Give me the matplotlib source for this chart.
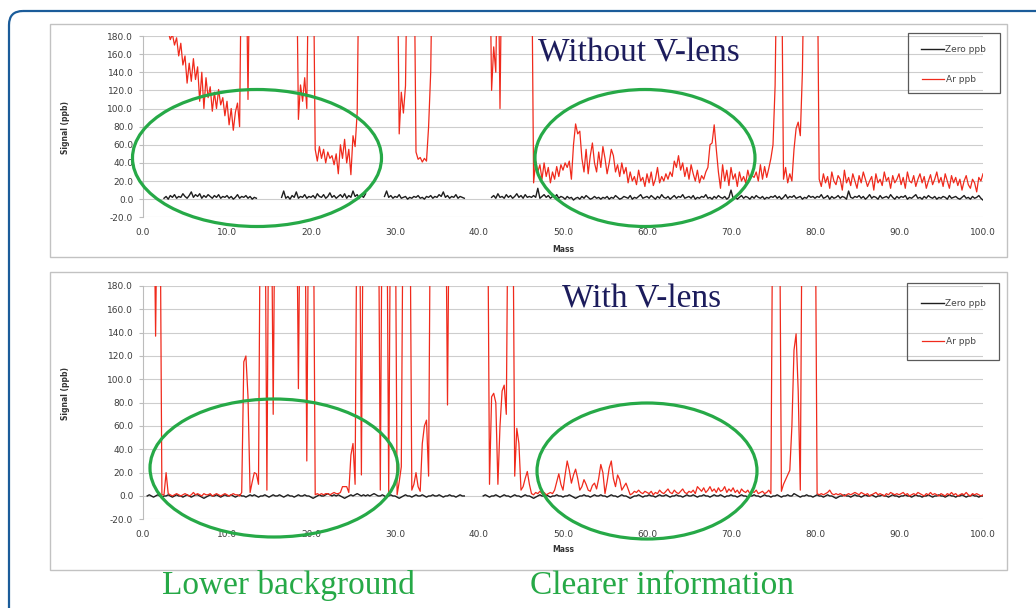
import numpy as np
import matplotlib
matplotlib.use('Agg')
import matplotlib.pyplot as plt
from matplotlib.patches import Ellipse, FancyBboxPatch, Rectangle

nan = np.nan
# mass axis, one sample every 0.25
mass = np.linspace(0, 100, 401)

# ---- Without V-lens: Ar ppb ----
ar_top = [
    nan, nan, nan, nan, nan, nan, nan, nan, nan, nan, 300, 240, 185, 176, 182, 170, 178, 158, 172, 148,   # 0
    158, 128, 150, 130, 155, 132, 146, 108, 140, 100, 134, 112, 124, 97, 118, 100, 121, 104, 112, 92,     # 5
    108, 82, 100, 76, 96, 106, 80, 300, 300, 300, 110, 300, 300, 300, 300, 300, 300, 300, 300, 300,       # 10
    300, 300, 300, 300, 300, 300, 300, 300, 300, 300, 300, 300, 300, 300, 88, 126, 108, 134, 100, 300,    # 15
    300, 300, 55, 42, 58, 45, 55, 40, 52, 45, 48, 38, 50, 28, 60, 45, 66, 40, 55, 27,                     # 20
    70, 58, 96, 300, 300, 300, 300, 300, 300, 300, 300, 300, 300, 300, 300, 300, 300, 300, 300, 300,      # 25
    300, 300, 72, 118, 95, 125, 300, 300, 300, 300, 52, 44, 46, 41, 45, 42, 80, 140, 300, 300,            # 30
    300, 300, 300, 300, 300, 300, 300, 300, 300, 300, 300, 300, 300, 300, 300, 300, 300, 300, 300, 300,   # 35
    300, 300, 300, 300, 300, 300, 120, 168, 140, 300, 100, 300, 300, 300, 300, 300, 300, 300, 300, 300,   # 40
    300, 300, 300, 300, 300, 300, 18, 42, 30, 38, 22, 40, 25, 35, 18, 30, 22, 36, 25, 38,                 # 45
    32, 40, 35, 42, 22, 60, 83, 72, 75, 45, 30, 55, 28, 48, 62, 40, 30, 52, 35, 58,                       # 50
    45, 28, 40, 55, 48, 30, 38, 25, 40, 28, 35, 18, 30, 20, 25, 16, 32, 20, 24, 14,                       # 55
    28, 18, 30, 15, 22, 35, 18, 25, 20, 28, 22, 30, 25, 42, 35, 48, 32, 40, 25, 35,                       # 60
    22, 38, 28, 20, 32, 18, 26, 22, 30, 35, 60, 62, 82, 55, 30, 12, 38, 20, 32, 15,                       # 65
    35, 22, 28, 14, 30, 20, 25, 18, 32, 22, 26, 24, 30, 20, 38, 22, 36, 24, 34, 45,                       # 70
    60, 125, 300, 300, 300, 22, 35, 18, 28, 20, 55, 78, 85, 70, 140, 300, 300, 300, 300, 300,             # 75
    300, 300, 22, 14, 28, 18, 25, 12, 30, 20, 16, 26, 22, 10, 32, 18, 24, 15, 28, 20,                     # 80
    12, 26, 18, 30, 22, 14, 20, 25, 10, 28, 18, 22, 15, 30, 20, 24, 12, 26, 18, 22,                       # 85
    28, 16, 24, 12, 30, 20, 18, 26, 14, 22, 28, 18, 25, 12, 20, 27, 16, 22, 30, 18,                       # 90
    24, 14, 28, 20, 12, 26, 18, 24, 15, 22, 10, 20, 26, 16, 12, 22, 18, 8, 24, 20,                        # 95
    28,
]

# ---- Without V-lens: Zero ppb ----
zero_top = [
    nan, nan, nan, nan, nan, nan, nan, nan, nan, nan, 1, 3, 0, 4, 2, 5, 1, 3, 2, 6,
    3, 1, 4, 8, 2, 5, 3, 6, 1, 4, 2, 5, 3, 1, 4, 2, 5, 1, 3, 2,
    4, 1, 3, 0, 2, 5, 1, 3, 2, 4, 1, 3, 0, 2, 1, nan, nan, nan, nan, nan,
    nan, nan, nan, nan, nan, nan, 2, 9, 1, 3, 0, 4, 2, 8, 1, 3, 2, 5, 1, 3,
    2, 4, 1, 6, 3, 2, 5, 1, 3, 7, 2, 4, 1, 3, 5, 2, 6, 1, 4, 2,
    9, 3, 5, 1, 4, 2, 6, nan, nan, nan, nan, nan, nan, nan, nan, 3, 9, 2, 4, 1,
    3, 2, 5, 1, 2, 3, 0, 2, 1, 3, 2, 4, 1, 2, 0, 3, 2, 4, 1, 3,
    2, 5, 3, 8, 2, 4, 1, 3, 2, 5, 1, 3, 2, 1, nan, nan, nan, nan, nan, nan,
    nan, nan, nan, nan, nan, nan, 2, 4, 1, 6, 2, 3, 1, 5, 2, 4, 1, 3, 6, 2,
    4, 1, 5, 2, 3, 2, 4, 2, 12, 1, 3, 5, 2, 4, 1, 3, 2, 5, 1, 3,
    2, 0, 3, 1, 2, -1, 1, 2, 0, 3, 1, 4, 2, 0, 1, 3, 1, 2, 0, 2,
    1, 3, 0, 2, 1, 4, 2, 0, 1, 3, 2, 1, 4, 0, 2, 1, 3, 5, 1, 2,
    3, 1, 4, 2, 0, 3, 1, 5, 2, 1, 3, 0, 2, 4, 1, 3, 2, 5, 1, 2,
    3, 1, 4, 0, 2, 1, 3, 2, 5, 1, 2, 0, 3, 1, 4, 2, 1, 3, 0, 2,
    10, 1, 3, 0, 2, 4, 1, 3, 2, 0, 3, 1, 4, 2, 1, 3, 0, 2, 1, 3,
    2, 4, 1, 3, 0, 2, 5, 1, 3, 2, 4, 1, 2, 3, 0, 2, 1, 4, 2, 3,
    1, 3, 2, 5, 1, 2, 4, 0, 3, 1, 2, 4, 1, 3, 2, 0, 9, 2, 1, 3,
    2, 4, 1, 3, 0, 2, 5, 1, 3, 2, 0, 4, 1, 2, 3, 1, 5, 2, 0, 3,
    1, 3, 2, 4, 0, 2, 1, 3, 5, 1, 2, 0, 3, 1, 4, 2, 1, 3, 0, 2,
    1, 3, 2, 0, 4, 1, 2, 3, 1, 0, 2, 4, 1, 2, 0, 3, 1, 2, 4, 1,
    -1,
]

# ---- With V-lens: Ar ppb ----
ar_bot = [
    nan, nan, nan, nan, nan, 300, 137, 300, 300, 1, 1, 20, 2, 1, 0, 1, 2, 1, 0, 1,
    2, 1, 0, 1, 3, 1, 2, 1, 0, 2, 1, 1, 2, 0, 1, 2, 1, 0, 1, 2,
    1, 0, 1, 2, 1, 1, 0, 3, 115, 120, 85, 3, 12, 20, 19, 10, 300, 300, 300, 5,
    300, 300, 70, 300, 300, 300, 300, 300, 300, 300, 300, 300, 300, 300, 92, 300, 300, 300, 30, 300,
    300, 300, 1, 2, 1, 2, 1, 2, 2, 1, 2, 3, 2, 2, 3, 8, 8, 8, 3, 35,
    45, 10, 300, 300, 18, 300, 300, 300, 300, 300, 300, 300, 300, 5, 300, 300, 300, 3, 300, 300,
    300, 1, 12, 25, 300, 300, 300, 300, 5, 10, 20, 8, 4, 45, 60, 65, 17, 300, 300, 300,
    300, 300, 300, 300, 300, 78, 300, 300, 300, 300, 300, 300, 300, 300, 300, 300, 300, 300, 300, 300,
    300, 300, 300, 300, 300, 10, 85, 88, 80, 10, 60, 90, 95, 70, 300, 300, 300, 17, 58, 45,
    5, 8, 15, 21, 10, 2, 1, 3, 2, 4, 2, 3, 1, 2, 3, 2, 5, 12, 19, 10,
    5, 18, 30, 22, 11, 18, 23, 15, 5, 8, 14, 10, 5, 4, 9, 11, 6, 15, 27, 20,
    2, 12, 24, 30, 15, 8, 18, 14, 5, 8, 11, 6, 1, 2, 4, 3, 5, 3, 2, 4,
    3, 2, 4, 1, 3, 2, 5, 3, 2, 4, 6, 3, 2, 5, 3, 2, 4, 6, 3, 2,
    4, 3, 5, 2, 8, 6, 4, 7, 3, 5, 8, 4, 6, 3, 7, 4, 5, 8, 3, 6,
    4, 7, 3, 5, 2, 6, 4, 3, 5, 2, 4, 3, 5, 2, 3, 4, 2, 3, 5, 2,
    300, 300, 300, 300, 4, 10, 14, 18, 22, 60, 125, 139, 90, 5, 300, 300, 300, 300, 300, 300,
    300, 2, 1, 2, 1, 2, 3, 5, 2, 1, 2, 1, 2, 1, 0, 1, 2, 1, 2, 3,
    2, 1, 3, 2, 1, 2, 0, 1, 2, 3, 1, 2, 1, 0, 2, 1, 3, 2, 1, 2,
    1, 2, 3, 1, 2, 0, 1, 2, 1, 3, 2, 1, 0, 2, 1, 3, 1, 2, 1, 0,
    2, 1, 0, 2, 1, 3, 1, 2, 0, 1, 2, 1, 3, 1, 0, 2, 1, 2, 1, 0,
    1,
]

# ---- With V-lens: Zero ppb ----
zero_bot = [
    nan, nan, 0, 1, 0, -1, 0, 1, 0, -1, 0, 0, 1, 0, -1, 0, 1, 0, 0, -1,
    0, 1, 0, -1, 0, 1, 1, 0, -1, -2, -1, 0, 1, 0, 0, 1, 0, -1, 0, 1,
    0, 0, 1, 0, -1, 0, 1, 0, 0, -1, 0, 1, 0, 1, 0, -1, 0, 0, 1, 0,
    -1, 0, 1, 0, 0, 1, 0, -1, 0, 1, 0, 0, -1, 0, 1, 0, 0, 1, 0, 0,
    -1, -2, -1, 0, 1, 0, 0, 1, 2, 1, 0, 1, 0, 1, 0, -1, -2, -1, 0, 1,
    0, 1, 2, 1, 0, 1, 0, 1, 0, 1, 2, 1, 0, 0, 1, 0, -1, 0, 1, 0,
    0, -1, -2, -1, 0, 1, 0, 0, -1, 0, 1, 0, 0, 1, 0, -1, 0, 0, 1, 0,
    0, 1, 0, -1, 0, 0, 1, 0, 0, -1, 0, 1, 0, 0, nan, nan, nan, nan, nan, nan,
    nan, nan, 0, 1, 0, -1, 0, 0, 1, 0, -1, 0, 1, 0, 0, -1, 0, 1, 0, 0,
    -1, 0, 1, 0, 0, -1, -2, -1, 0, 1, 0, 0, 1, 0, -1, 0, 0, 1, 0, 0,
    -1, 0, 0, 1, 0, -1, -2, -1, 0, 0, 1, 0, 0, -1, 0, 1, 0, 0, 1, 0,
    0, -1, 0, 1, 0, 0, -1, 0, 1, 0, 0, -1, -2, -1, 0, 0, 1, 0, -1, 0,
    0, 1, 0, 0, -1, 0, 1, 0, 0, 1, 0, -1, 0, 0, 1, 0, 0, -1, 0, 1,
    0, 0, 1, 0, -1, 0, 0, 1, 0, 0, -1, 0, 1, 0, 0, 1, 0, -1, 0, 0,
    1, 0, 0, -1, 0, 1, 0, 0, -1, 0, 0, 1, 0, 0, -1, 0, 1, 0, 0, -1,
    0, 0, 1, 0, -1, 0, 0, 1, 0, 0, 2, 1, 0, -1, 0, 0, 1, 0, 0, -1,
    0, 1, 0, 0, -1, 0, 1, 0, 0, -1, -2, -1, 0, 0, 1, 0, 0, -1, 0, 1,
    0, 0, -1, 0, 1, 0, 0, 1, 0, -1, 0, 0, 1, 0, 0, -1, 0, 1, 0, 0,
    -1, 0, 0, 1, 0, 0, -1, 0, 1, 0, 0, -1, 0, 0, 1, 0, -1, 0, 0, 1,
    0, 0, -1, 0, 1, 0, 0, -1, 0, 0, 1, 0, -1, 0, 0, 1, 0, 0, -1, 0,
    0,
]

yticks = [-20, 0, 20, 40, 60, 80, 100, 120, 140, 160, 180]
xticks = [0, 10, 20, 30, 40, 50, 60, 70, 80, 90, 100]

RED = '#f02a1c'
BLACK = '#1e1e1e'
GREEN = '#26a947'
NAVY = '#1c1c5c'
TICKC = '#3c3c3c'

W, H = 1036, 608
fig = plt.figure(figsize=(W / 100, H / 100), dpi=100)
fig.patch.set_facecolor('white')


def px_axes(x0, y0, x1, y1):
    # axes rectangle given in image pixels (top-left origin)
    return fig.add_axes([x0 / W, 1 - y1 / H, (x1 - x0) / W, (y1 - y0) / H])


def style(ax):
    ax.set_xlim(0, 100)
    ax.set_ylim(-20, 180)
    ax.set_xticks(xticks)
    ax.set_xticklabels(['%.1f' % v for v in xticks])
    ax.set_yticks(yticks)
    ax.set_yticklabels(['%.1f' % v for v in yticks])
    ax.grid(axis='y', color='#cdcdcd', lw=0.8)
    ax.set_axisbelow(True)
    for s in ['top', 'right', 'bottom']:
        ax.spines[s].set_visible(False)
    ax.spines['left'].set_color('#bcbcbc')
    ax.tick_params(axis='y', length=3, color='#bcbcbc', pad=4,
                   labelsize=6.5, labelcolor=TICKC)
    ax.tick_params(axis='x', length=0, pad=8, labelsize=6.5, labelcolor=TICKC)
    ax.patch.set_alpha(0)


ax1 = px_axes(143, 36, 983, 217.3)
style(ax1)
ax1.plot(mass, zero_top, color=BLACK, lw=1.0)
ax1.plot(mass, ar_top, color=RED, lw=0.9)

ax2 = px_axes(143, 286, 983, 519.3)
style(ax2)
ax2.plot(mass, zero_bot, color=BLACK, lw=1.0)
ax2.plot(mass, ar_bot, color=RED, lw=0.9)

# overlay in pixel coordinates for frames, labels and annotations
ov = fig.add_axes([0, 0, 1, 1], zorder=10)
ov.set_xlim(0, W)
ov.set_ylim(H, 0)
ov.axis('off')
ov.patch.set_alpha(0)

ov.add_patch(FancyBboxPatch((9, 11), 1100, 700, boxstyle='round,pad=0,rounding_size=14',
                            fill=False, ec='#1b5c9a', lw=1.6))
ov.add_patch(Rectangle((50, 24), 957, 233, fill=False, ec='#c2c2c2', lw=1))
ov.add_patch(Rectangle((50, 272), 957, 298, fill=False, ec='#c2c2c2', lw=1))

for cy in [127, 393]:
    ov.text(65, cy, 'Signal (ppb)', rotation=90, ha='center', va='center',
            fontsize=5.5, fontweight='bold', color='#333333')
for cy in [249, 550]:
    ov.text(563, cy, 'Mass', ha='center', va='center',
            fontsize=5.5, fontweight='bold', color='#333333')

# legends
for (bx, by, bw, bh, y_zero, y_ar) in [(908, 33, 92, 60, 49, 79), (907, 283, 92, 77, 303, 341)]:
    ov.add_patch(Rectangle((bx, by), bw, bh, fill=False, ec='#5a5a5a', lw=0.9))
    ov.plot([921, 944], [y_zero, y_zero], color=BLACK, lw=1.0)
    ov.plot([922, 944], [y_ar, y_ar], color=RED, lw=0.9)
    ov.text(945, y_zero, 'Zero ppb', ha='left', va='center', fontsize=6.5, color='#444444')
    ov.text(946, y_ar, 'Ar ppb', ha='left', va='center', fontsize=6.5, color='#444444')

serif = 'Liberation Serif'
ov.text(538, 62, 'Without V-lens', ha='left', va='baseline', fontsize=24, family=serif, color=NAVY)
ov.text(562, 307, 'With V-lens', ha='left', va='baseline', fontsize=24, family=serif, color=NAVY)
ov.text(162, 594, 'Lower background', ha='left', va='baseline', fontsize=24, family=serif, color=GREEN)
ov.text(530, 594, 'Clearer information', ha='left', va='baseline', fontsize=24, family=serif, color=GREEN)

for (cx, cy, ew, eh) in [(257, 158, 249, 137), (645, 158, 220, 137),
                         (274, 468, 248, 138), (647, 471, 220, 136)]:
    ov.add_patch(Ellipse((cx, cy), ew, eh, fill=False, ec=GREEN, lw=2.3))

fig.savefig('out.png', dpi=100)
